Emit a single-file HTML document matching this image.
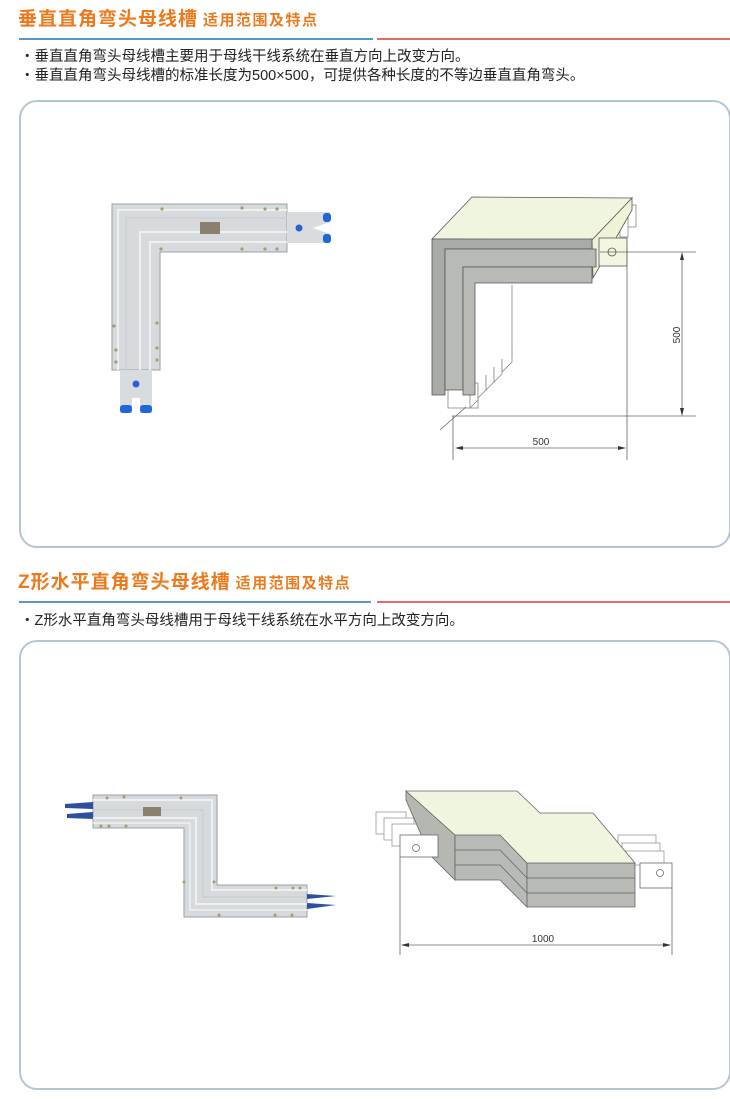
<!DOCTYPE html>
<html><head><meta charset="utf-8"><style>
body{margin:0;width:730px;height:1099px;background:#fff;position:relative;overflow:hidden;font-family:"Liberation Sans","Noto Sans CJK SC",sans-serif}
.t{position:absolute;color:#ec7a1c;font-weight:bold;font-size:19px;letter-spacing:1px;white-space:nowrap;line-height:22px}
.t span{font-size:15px;letter-spacing:1.5px;margin-left:5px}
.p{position:absolute;font-size:14.5px;color:#222;white-space:nowrap;line-height:18px}
.bl{position:absolute;height:2px;background:#5d95c8}
.rl{position:absolute;height:2px;background:#e66a66}
.box{position:absolute;left:19px;width:708px;border:2px solid #b3c6d3;border-radius:18px}
svg{position:absolute;left:0;top:0}
</style></head><body>
<div class="t" style="left:18px;top:9px">垂直直角弯头母线槽<span>适用范围及特点</span></div>
<div class="bl" style="left:19px;top:38px;width:354px"></div>
<div class="rl" style="left:377px;top:38px;width:353px"></div>
<div class="p" style="left:20px;top:48px">・垂直直角弯头母线槽主要用于母线干线系统在垂直方向上改变方向。</div>
<div class="p" style="left:20px;top:67px">・垂直直角弯头母线槽的标准长度为500×500，可提供各种长度的不等边垂直直角弯头。</div>
<div class="box" style="top:100px;height:444px"></div>

<div class="t" style="left:18px;top:572px">Z形水平直角弯头母线槽<span>适用范围及特点</span></div>
<div class="bl" style="left:19px;top:601px;width:352px"></div>
<div class="rl" style="left:377px;top:601px;width:353px"></div>
<div class="p" style="left:20px;top:612px">・Z形水平直角弯头母线槽用于母线干线系统在水平方向上改变方向。</div>
<div class="box" style="top:640px;height:446px"></div>

<svg width="730" height="1099" viewBox="0 0 730 1099">
<g>
<polygon points="112,204 287,204 287,252 160,252 160,370 112,370" fill="#d6dadc" stroke="#9aa0a4" stroke-width="1"/>
<polyline points="118,370 118,210 287,210" fill="none" stroke="#eef1f2" stroke-width="2"/>
<polyline points="126,370 126,218 287,218" fill="none" stroke="#c6cbce" stroke-width="1"/>
<polyline points="140,370 140,232 287,232" fill="none" stroke="#eef1f2" stroke-width="2"/>
<polyline points="150,370 150,242 287,242" fill="none" stroke="#eef1f2" stroke-width="2"/>
<rect x="200" y="222" width="20" height="12" fill="#8a8070"/>
<polygon points="287,212 330,212 330,222 313,228 330,234 330,243 287,243" fill="#d9dcde"/>
<rect x="323" y="213" width="8" height="9" rx="3" fill="#1f66d6"/>
<rect x="323" y="234" width="8" height="9" rx="3" fill="#1f66d6"/>
<circle cx="299" cy="228" r="3.5" fill="#2a62d0"/>
<polygon points="120,370 152,370 152,413 140,413 140,398 132,398 132,413 120,413" fill="#d9dcde"/>
<rect x="120" y="405" width="12" height="8" rx="3" fill="#1f66d6"/>
<rect x="140" y="405" width="12" height="8" rx="3" fill="#1f66d6"/>
<circle cx="136" cy="384" r="3.5" fill="#2a62d0"/>
<g fill="#a89a70"><circle cx="162" cy="209" r="1.6"/><circle cx="242" cy="208" r="1.6"/><circle cx="265" cy="209" r="1.6"/><circle cx="277" cy="209" r="1.6"/><circle cx="161" cy="249" r="1.6"/><circle cx="242" cy="249" r="1.6"/><circle cx="265" cy="249" r="1.6"/><circle cx="277" cy="249" r="1.6"/><circle cx="114" cy="326" r="1.6"/><circle cx="116" cy="350" r="1.6"/><circle cx="116" cy="362" r="1.6"/><circle cx="157" cy="323" r="1.6"/><circle cx="157" cy="348" r="1.6"/><circle cx="157" cy="360" r="1.6"/></g>
</g>

<g stroke="#555" stroke-width="0.8">
<g fill="#fff" stroke="#888">
<rect x="448" y="383" width="30" height="25"/>
<polyline points="470,395 470,408 478,400 478,385" />
<polyline points="478,385 478,398 486,390 486,375"/>
<polyline points="486,375 486,390 494,382 494,367"/>
<polyline points="494,367 494,382 502,374 502,359"/>
<line x1="512" y1="285" x2="512" y2="355"/>
<polyline points="502,359 502,372 512,362 512,350"/>
<rect x="620" y="205" width="16" height="22"/>
<rect x="612" y="215" width="16" height="22"/>
<rect x="604" y="225" width="16" height="22"/>
</g>
<polygon points="432,239 472,197 632,198 592,240" fill="#f0f5df"/>
<polygon points="592,240 632,198 632,210 593,278" fill="#eef3d8"/>
<rect x="599" y="238" width="28" height="28" fill="#f3f6e0"/>
<circle cx="612" cy="252" r="4" fill="none"/>
<polygon points="432,239 592,239 592,249 445,249 445,395 432,395" fill="#a8aba6"/>
<polygon points="445,249 596,249 596,267 463,267 463,390 445,390" fill="#b8bbb5"/>
<polygon points="463,267 592,267 592,283 475,283 475,395 463,395" fill="#b8bbb5"/>
</g>
<g stroke="#666" stroke-width="0.8" fill="none">
<line x1="600" y1="252" x2="696" y2="252"/>
<line x1="452" y1="416" x2="696" y2="416"/>
<line x1="682" y1="255" x2="682" y2="413"/>
<line x1="627" y1="248" x2="627" y2="460"/>
<line x1="453" y1="416" x2="453" y2="460"/>
<line x1="456" y1="448" x2="624" y2="448"/>
<line x1="440" y1="430" x2="466" y2="407"/>
</g>
<g fill="#333"><polygon points="682,252 680,260 684,260"/><polygon points="682,416 680,408 684,408"/><polygon points="455,448 463,446 463,450"/><polygon points="626,448 618,446 618,450"/></g>
<text x="541" y="445" font-size="10" font-family="Liberation Sans" fill="#333" text-anchor="middle">500</text>
<text x="0" y="0" font-size="10" font-family="Liberation Sans" fill="#333" text-anchor="middle" transform="translate(680,335) rotate(-90)">500</text>

<g>
<polygon points="93,795 217,795 217,885 307,885 307,917 184,917 184,828 93,828" fill="#d6dadc" stroke="#9aa0a4" stroke-width="1"/>
<polyline points="93,800 212,800 212,890 307,890" fill="none" stroke="#eef1f2" stroke-width="2"/>
<polyline points="93,810 203,810 203,897 307,897" fill="none" stroke="#c4c9cc" stroke-width="1"/>
<polyline points="93,818 196,818 196,904 307,904" fill="none" stroke="#eef1f2" stroke-width="2"/>
<polyline points="93,823 190,823 190,910 307,910" fill="none" stroke="#eef1f2" stroke-width="1.5"/>
<rect x="143" y="807" width="18" height="9" fill="#8a8070"/>
<polygon points="65,804 93,802 93,809 65,808" fill="#2c4fa0"/>
<polygon points="67,814 93,812 93,819 67,818" fill="#2c4fa0"/>
<polygon points="307,894 336,896 307,899" fill="#2c4fa0"/>
<polygon points="307,903 336,905 307,909" fill="#2c4fa0"/>
<g fill="#a89a70"><circle cx="107" cy="798" r="1.5"/><circle cx="124" cy="797" r="1.5"/><circle cx="181" cy="798" r="1.5"/><circle cx="101" cy="826" r="1.5"/><circle cx="109" cy="826" r="1.5"/><circle cx="126" cy="826" r="1.5"/><circle cx="184" cy="882" r="1.5"/><circle cx="214" cy="882" r="1.5"/><circle cx="276" cy="888" r="1.5"/><circle cx="293" cy="888" r="1.5"/><circle cx="300" cy="888" r="1.5"/><circle cx="219" cy="915" r="1.5"/><circle cx="275" cy="915" r="1.5"/><circle cx="292" cy="915" r="1.5"/></g>
</g>

<g stroke="#666" stroke-width="0.8">
<g fill="#fff" stroke="#999">
<rect x="376" y="812" width="30" height="22"/>
<rect x="384" y="818" width="30" height="22"/>
<rect x="392" y="824" width="30" height="22"/>
<rect x="618" y="835" width="38" height="14"/>
<rect x="622" y="843" width="38" height="14"/>
<rect x="626" y="851" width="38" height="14"/>
</g>
<polygon points="406,791 455,835 455,880 430,855 406,800" fill="#b5b8b1"/>
<polygon points="455,835 500,835 527,863 527,907 500,880 455,880" fill="#b8bbb5"/>
<polygon points="527,863 635,863 635,907 527,907" fill="#b8bbb5"/>
<polyline points="455,850 500,850 527,878 635,878" fill="none"/>
<polyline points="455,865 500,865 527,893 635,893" fill="none"/>
<polygon points="406,791 517,791 540,813 593,813 635,863 527,863 500,835 455,835" fill="#f0f5df"/>
<rect x="400" y="835" width="38" height="22" fill="#fff"/>
<circle cx="416" cy="848" r="3.5" fill="none"/>
<rect x="640" y="863" width="32" height="25" fill="#fff"/>
<circle cx="660" cy="873" r="3.5" fill="none"/>
</g>
<g stroke="#666" stroke-width="0.8" fill="none">
<line x1="400" y1="857" x2="400" y2="955"/>
<line x1="672" y1="888" x2="672" y2="955"/>
<line x1="402" y1="945" x2="670" y2="945"/>
</g>
<g fill="#333"><polygon points="401,945 409,943 409,947"/><polygon points="671,945 663,943 663,947"/></g>
<text x="543" y="942" font-size="10" font-family="Liberation Sans" fill="#333" text-anchor="middle">1000</text>
</svg>
</body></html>
